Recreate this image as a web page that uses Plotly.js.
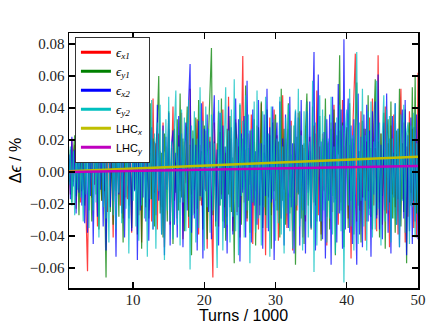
<!DOCTYPE html>
<html>
<head>
<meta charset="utf-8">
<script src="https://cdn.plot.ly/plotly-3.0.1.min.js"></script>
<style>html,body{margin:0;padding:0;background:#fff;}</style>
</head>
<body>
<div id="emit" style="width:436px;height:329px;"></div>
<script>
// emittance change, sampled every 0.2 (turns/1000) from 1 to 50
var ex1 = [.008,-.014,.021,-.006,.017,-.023,.012,.004,-.019,.026,
 -.011,.015,-.027,-.062,.009,.019,-.016,.031,-.008,.013,
 -.034,.022,.005,-.018,.028,-.012,.016,-.025,.036,-.009,
 .011,-.041,.024,-.015,.007,.033,-.021,.014,-.029,.019,
 .042,-.017,-.006,.026,-.038,.013,.021,-.011,.035,-.027,
 .015,-.044,.029,.003,-.019,.038,-.024,.012,-.031,.046,
 -.013,.018,-.036,.024,.009,-.022,.031,-.047,.016,-.008,
 .027,-.033,.014,.041,-.018,.006,-.029,.023,-.012,.037,
 -.042,.019,-.007,.028,-.035,.052,-.014,.021,-.026,.011,
 .033,-.039,.017,-.021,.044,-.011,.026,-.048,.013,.022,
 -.017,-.066,.031,-.009,.018,-.034,.025,-.014,.039,-.022,
 .012,-.028,.047,-.016,.021,-.037,.009,.033,-.025,.016,
 -.041,.028,.0725,-.019,.014,-.031,.024,-.008,.036,-.045,
 .019,-.012,.029,-.036,.011,.043,-.021,.017,-.052,.026,
 -.015,.034,-.027,.008,.039,-.018,.023,-.043,.014,-.029,
 .048,-.011,.021,-.035,.027,-.016,.032,-.049,.018,.009,
 -.024,.037,-.013,.026,-.041,.015,-.031,.044,-.008,.022,
 -.036,.013,.029,-.021,.051,-.027,.016,-.039,.024,-.011,
 .035,-.046,.019,-.014,.031,-.025,.042,-.017,.009,-.033,
 .026,-.019,.045,-.038,.014,.028,-.029,.017,-.054,.021,
 .057,.074,-.031,.013,-.024,.038,-.016,.027,-.043,.019,
 -.012,.034,-.028,.046,-.021,.015,-.037,.073,-.019,.024,
 -.033,.012,.041,-.026,.018,-.047,.029,-.014,.036,-.022,
 .011,-.039,.025,.052,-.017,.031,-.044,.016,-.028,.038,
 -.013,.027,-.035,.021,-.041,.062];
var ey1 = [-.006,.014,-.019,.011,.023,-.015,.008,-.027,.018,-.012,
 .029,-.021,.013,.034,-.024,.009,-.031,.017,.039,-.014,
 .021,-.036,.012,-.018,.027,-.009,-.066,.022,.031,-.025,
 .015,-.033,.041,-.012,.019,-.028,.036,.007,-.044,.023,
 -.016,.047,-.021,.013,-.035,.028,-.011,.032,-.039,.018,
 .025,-.048,.014,.037,-.022,.011,-.029,.043,-.017,.021,
 -.034,.016,.029,.060,-.026,.012,-.041,.024,.009,-.031,
 .038,-.019,.015,-.045,.027,-.013,.033,-.024,.049,-.016,
 .021,-.037,.012,.041,-.028,.017,-.052,.026,-.011,.034,
 -.023,.045,-.018,.013,-.036,.029,.008,-.042,.024,.051,
 .0775,-.027,.019,-.034,.012,.038,-.021,.046,-.031,.016,
 -.043,.027,-.014,.035,-.025,.009,-.057,.031,.018,-.022,
 .042,-.033,.021,-.011,.054,-.029,.015,-.038,.026,-.019,
 .033,-.046,.017,.028,-.021,.044,-.035,.012,-.027,.039,
 -.016,.023,-.048,.031,-.012,.036,-.024,.019,-.041,.052,
 -.018,.027,-.033,.015,.043,-.026,.011,-.037,.029,-.058,
 .022,-.014,.038,-.029,.017,-.045,.026,.049,-.021,.013,
 -.034,.041,-.019,.024,-.031,.016,.035,-.043,.021,-.012,
 .046,-.028,.018,-.036,.027,-.015,.039,-.052,.023,.011,
 .073,-.024,.031,-.047,.015,.028,-.035,.043,-.018,.021,
 -.039,.025,.056,-.021,.013,-.044,.032,-.016,.027,-.031,
 .048,-.023,.015,-.036,.029,.058,-.027,.019,-.041,.024,
 -.015,.037,-.048,.021,.033,-.019,.044,-.029,.012,-.038,
 .026,-.017,.052,-.034,.018,-.025,.039,-.057,.023,.031,
 -.021,.053,-.018,.060,-.026,.019];
var ex2 = [.011,-.017,.022,-.009,.014,-.026,.019,-.013,.028,-.021,
 .007,-.032,.018,-.038,.024,-.015,.031,-.045,.012,.021,
 -.028,.036,-.011,.019,-.034,.026,-.049,.015,.029,-.022,
 .041,-.018,.013,-.053,.027,-.014,.034,-.026,.019,-.041,
 .022,.038,-.029,.016,-.037,.024,-.012,.045,-.055,.018,
 -.024,.033,-.016,.051,-.031,.021,-.043,.014,.028,-.036,
 .019,-.027,.042,-.018,.013,-.039,.029,-.052,.022,-.011,
 .037,-.046,.017,.026,-.033,.012,-.041,.035,-.019,.024,
 -.047,.015,.031,-.024,.045,.0675,-.038,.021,-.029,.017,
 -.049,.032,-.015,.043,-.054,.027,-.012,.036,-.025,.019,
 -.042,.023,.048,-.031,.014,-.046,.037,-.017,.029,-.035,
 .016,-.051,.041,-.022,.028,-.039,.019,.046,-.027,.033,
 -.056,.024,-.013,.035,-.041,.057,-.018,.026,-.044,.039,
 -.021,.013,-.033,.045,-.027,.018,-.048,.036,-.015,.052,
 -.037,.028,-.019,.041,-.055,.015,.031,-.024,.044,-.029,
 .021,-.046,.036,-.012,-.035,.047,-.022,.018,-.051,.038,
 -.013,.034,-.046,.045,-.024,.018,-.051,.038,-.013,.044,
 -.035,.027,.075,-.049,.022,.061,-.031,.019,-.042,.025,
 -.054,.033,-.018,.036,-.058,.047,-.019,.031,-.044,.055,
 -.026,.039,-.048,.083,-.036,.021,.046,-.038,.029,-.045,
 .033,-.027,-.058,.049,-.039,.022,-.047,.036,-.018,.042,
 -.031,.026,-.053,.038,-.014,.044,-.029,.061,-.036,.017,
 -.042,.031,-.024,.049,-.038,.021,-.051,.035,-.016,.043,
 -.033,.027,-.047,.018,.039,-.029,.045,-.052,.023,-.037,
 .034,-.045,.028,-.031,.036,-.042];
var ey2 = [-.008,.016,-.021,.013,-.027,.019,-.011,.024,-.016,.009,
 -.031,.022,-.014,.027,-.035,.018,.012,-.024,.029,-.019,
 .033,-.041,.015,.026,-.022,.038,-.029,.011,-.044,.031,
 .059,-.027,.019,-.036,.024,-.013,.041,-.032,.017,.044,
 -.023,.029,-.051,.021,.037,-.018,.049,-.034,.014,-.043,
 .035,-.021,.056,-.029,.016,-.053,.038,-.017,.045,-.036,
 .024,-.048,.031,-.012,.042,-.039,.026,-.055,.033,-.024,
 .047,-.031,.019,-.042,.028,.051,-.033,.016,-.046,.039,
 -.019,.034,-.037,.022,.045,-.061,.029,-.027,.038,-.044,
 .021,-.035,.053,-.016,.032,-.049,.041,-.022,.027,-.038,
 .036,-.024,.018,-.031,-.060,.045,-.021,.037,-.049,.016,
 .053,-.033,.026,-.044,.039,-.028,.058,-.037,.021,-.052,
 .043,-.015,.032,-.041,.048,-.024,.036,-.057,.027,-.019,
 .044,-.038,.051,-.029,.018,-.046,.038,-.022,.047,-.035,
 .024,-.053,.041,-.017,.033,-.043,.021,-.032,.047,-.039,
 .016,-.051,.034,-.026,.042,-.037,.029,-.048,.025,.039,
 -.021,.052,-.034,.023,-.049,.038,-.027,.044,-.041,.019,
 -.036,.057,-.0625,.031,-.046,.025,.048,-.031,.039,-.024,
 .035,-.044,.021,-.029,.047,-.039,.016,-.051,.034,-.026,
 .042,-.037,.029,-.069,.025,.039,-.021,.052,-.034,.023,
 -.049,.038,.075,-.045,.031,-.018,.052,-.034,.023,-.049,
 .038,-.027,.044,-.041,.019,-.036,.057,-.023,.031,-.046,
 .025,.048,-.031,.039,-.024,.035,-.044,.021,-.029,.043,
 -.033,.027,-.047,.036,-.018,.042,-.038,.024,.031,-.045,
 .029,-.022,.037,-.041,.018,-.026];
var lhcTurns = [1, 50];
var lhcX = [0.0005, 0.0095];
var lhcY = [0.0, 0.0038];

var names = ['ex1', 'ey1', 'ex2', 'ey2'];
var colors = ['#ff0000', '#008000', '#0000ff', '#00bfbf', '#bfbf00', '#bf00bf'];

function eps(s){
  return '<span style="font-family:Liberation Serif;font-size:13px"><i>ϵ<sub>'+s+'</sub></i></span>';
}
var labels = [eps('x1'), eps('y1'), eps('x2'), eps('y2'), 'LHC<sub><i>x</i></sub>', 'LHC<sub><i>y</i></sub>'];

var data = [];
// legend entries (thicker sample lines, like matplotlib)
labels.forEach(function(l, i){
  data.push({x:[null], y:[null], type:'scatter', mode:'lines', name:l,
    line:{color:colors[i], width:3}});
});
[ex1, ey1, ex2, ey2].forEach(function(y, i){
  data.push({y:y, x0:1, dx:0.2, type:'scatter', mode:'lines', name:names[i],
    showlegend:false, opacity:0.75, line:{color:colors[i], width:1.2}});
});
data.push({x:lhcTurns, y:lhcX, type:'scatter', mode:'lines', showlegend:false, line:{color:colors[4], width:2.5}});
data.push({x:lhcTurns, y:lhcY, type:'scatter', mode:'lines', showlegend:false, line:{color:colors[5], width:2.5}});

var axisCommon = {showline:true, linecolor:'#000', linewidth:1.5, mirror:'ticks',
  ticks:'inside', ticklen:6, tickwidth:1.3, tickcolor:'#000', showgrid:false, zeroline:false,
  tickfont:{family:'Liberation Serif', size:15, color:'#222'}};

var layout = {
  width:436, height:329,
  margin:{l:69, r:18, t:33, b:41},
  paper_bgcolor:'#fff', plot_bgcolor:'#fff',
  font:{family:'Liberation Sans', color:'#000'},
  showlegend:true,
  legend:{x:0.017, y:0.985, xanchor:'left', yanchor:'top', bgcolor:'#fff',
    bordercolor:'#333', borderwidth:1, font:{family:'Liberation Sans', size:11}, itemwidth:30},
  xaxis:Object.assign({}, axisCommon, {range:[1,50], tickvals:[10,20,30,40,50],
    ticklabelstandoff:-3,
    title:{text:'Turns / 1000', font:{size:16}, standoff:0}}),
  yaxis:Object.assign({}, axisCommon, {range:[-0.0725,0.0869],
    tickvals:[-0.06,-0.04,-0.02,0,0.02,0.04,0.06,0.08],
    ticktext:['−0.06','−0.04','−0.02','0.00','0.02','0.04','0.06','0.08'],
    title:{text:'Δ<i>ϵ</i> / %', font:{size:16}, standoff:4}})
};
Plotly.newPlot('emit', data, layout, {displayModeBar:false, staticPlot:true});
</script>
</body>
</html>
